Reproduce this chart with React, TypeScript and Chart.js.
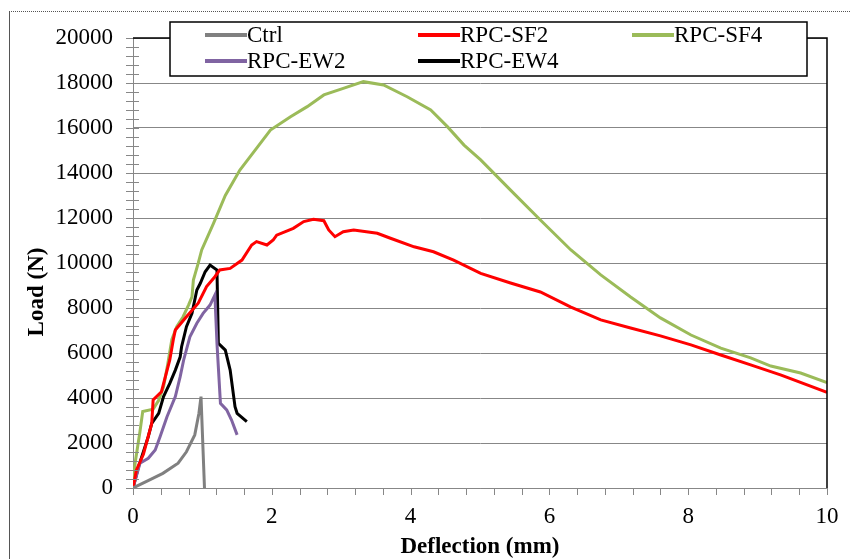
import React, { useEffect, useRef } from "react";
import { Chart, registerables } from "chart.js";

Chart.register(...registerables);

// ---- Data (deflection in mm, load in N) ----
const ctrlX = [0, 0.24, 0.43, 0.65, 0.77, 0.89, 0.95, 0.98, 1.03];
const ctrlY = [0, 360, 650, 1100, 1610, 2360, 3320, 4060, 0];

const sf2X = [0, 0.05, 0.15, 0.22, 0.27, 0.29, 0.41, 0.53, 0.58, 0.61, 0.77, 0.94, 1.06, 1.18, 1.25, 1.4, 1.57, 1.71, 1.78, 1.93, 2.02, 2.07, 2.31, 2.46, 2.6, 2.75, 2.82, 2.91, 3.03, 3.18, 3.52, 3.71, 4.05, 4.33, 4.62, 5.01, 5.44, 5.87, 6.31, 6.74, 7.17, 7.6, 8.04, 8.47, 8.9, 9.34, 10];
const sf2Y = [0, 800, 1500, 2300, 2870, 3910, 4280, 5690, 6580, 7020, 7610, 8210, 8950, 9390, 9690, 9760, 10130, 10800, 10950, 10800, 11020, 11240, 11540, 11840, 11940, 11880, 11470, 11170, 11390, 11470, 11320, 11100, 10720, 10500, 10130, 9540, 9110, 8710, 8040, 7470, 7110, 6760, 6360, 5910, 5470, 5020, 4250];

const sf4X = [0, 0.03, 0.1, 0.14, 0.29, 0.37, 0.44, 0.5, 0.56, 0.63, 0.72, 0.8, 0.85, 0.87, 0.94, 0.99, 1.16, 1.33, 1.54, 1.76, 1.98, 2.27, 2.51, 2.75, 3.03, 3.32, 3.61, 3.95, 4.29, 4.53, 4.77, 5.01, 5.44, 5.87, 6.31, 6.74, 7.17, 7.6, 8.04, 8.47, 8.9, 9.19, 9.62, 10];
const sf4Y = [0, 1100, 2500, 3400, 3500, 3900, 4500, 5500, 6600, 7170, 7600, 8130, 8500, 9240, 9990, 10580, 11760, 13000, 14130, 15020, 15910, 16500, 16950, 17470, 17760, 18060, 17910, 17390, 16800, 16060, 15240, 14580, 13240, 11910, 10580, 9470, 8490, 7560, 6800, 6220, 5780, 5420, 5110, 4680];

const ew2X = [0, 0.1, 0.22, 0.32, 0.39, 0.49, 0.61, 0.68, 0.73, 0.82, 0.92, 1.01, 1.11, 1.18, 1.21, 1.26, 1.35, 1.42, 1.5];
const ew2Y = [0, 1100, 1320, 1690, 2280, 3170, 4060, 4950, 5690, 6720, 7320, 7760, 8130, 8580, 6430, 3760, 3470, 3020, 2360];

const ew4X = [0, 0.08, 0.22, 0.27, 0.37, 0.44, 0.53, 0.61, 0.68, 0.7, 0.77, 0.85, 0.92, 0.97, 1.04, 1.11, 1.21, 1.23, 1.33, 1.4, 1.47, 1.5, 1.64];
const ew4Y = [0, 950, 2280, 2870, 3320, 4060, 4650, 5240, 5830, 6280, 7170, 7760, 8800, 9100, 9610, 9910, 9690, 6430, 6130, 5240, 3610, 3320, 2950];

const seriesLabels = ["Ctrl", "RPC-SF2", "RPC-SF4", "RPC-EW2", "RPC-EW4"];
const seriesColors = ["#808080", "#FF0000", "#9BBB59", "#8064A2", "#000000"];
const seriesXs = [ctrlX, sf2X, sf4X, ew2X, ew4X];
const seriesYs = [ctrlY, sf2Y, sf4Y, ew2Y, ew4Y];

const xMin = 0, xMax = 10, xStep = 2, xMinorStep = 0.4;
const yMin = 0, yMax = 20000, yStep = 2000, yMinorStep = 400;
const xTitle = "Deflection (mm)";
const yTitle = "Load (N)";

const FONT = "'Liberation Serif', 'Times New Roman', serif";

const decorPlugin = {
  id: "decor",
  afterDraw(chart: any) {
    const ctx = chart.ctx as CanvasRenderingContext2D;
    const { left, right, top, bottom } = chart.chartArea;
    const xs = chart.scales.x;
    const ys = chart.scales.y;
    ctx.save();

    // outer frame
    ctx.strokeStyle = "#555";
    ctx.lineWidth = 1;
    ctx.setLineDash([1, 1]);
    ctx.beginPath();
    ctx.moveTo(9, 11.5);
    ctx.lineTo(850, 11.5);
    ctx.stroke();
    ctx.setLineDash([]);
    ctx.beginPath();
    ctx.moveTo(9.5, 11);
    ctx.lineTo(9.5, 559);
    ctx.stroke();

    // minor ticks
    ctx.strokeStyle = "#878787";
    ctx.lineWidth = 1;
    ctx.beginPath();
    for (let v = yMin; v <= yMax + 1e-6; v += yMinorStep) {
      const y = Math.round(ys.getPixelForValue(v)) + 0.5;
      ctx.moveTo(left - 7, y);
      ctx.lineTo(left + 6, y);
    }
    const nx = Math.round((xMax - xMin) / xMinorStep);
    for (let i = 0; i <= nx; i++) {
      const x = Math.round(xs.getPixelForValue(xMin + i * xMinorStep)) + 0.5;
      ctx.moveTo(x, bottom);
      ctx.lineTo(x, bottom + 7);
    }
    ctx.stroke();

    // top/right border
    ctx.strokeStyle = "#000";
    ctx.lineWidth = 1.5;
    ctx.beginPath();
    ctx.moveTo(left, top);
    ctx.lineTo(right, top);
    ctx.lineTo(right, bottom);
    ctx.stroke();

    // legend
    const bx = 170, by = 22, bw = 637, bh = 54;
    ctx.fillStyle = "#fff";
    ctx.fillRect(bx, by, bw, bh);
    ctx.strokeStyle = "#000";
    ctx.lineWidth = 1.5;
    ctx.strokeRect(bx, by, bw, bh);
    const colX = [205, 418, 632];
    const rowY = [35, 61];
    ctx.font = `23px ${FONT}`;
    ctx.textBaseline = "middle";
    ctx.textAlign = "left";
    chart.data.datasets.forEach((ds: any, i: number) => {
      const cx = colX[i % 3];
      const cy = rowY[Math.floor(i / 3)];
      ctx.strokeStyle = ds.borderColor;
      ctx.lineWidth = 4;
      ctx.beginPath();
      ctx.moveTo(cx, cy);
      ctx.lineTo(cx + 42, cy);
      ctx.stroke();
      ctx.fillStyle = "#000";
      ctx.fillText(ds.label, cx + 42, cy + 1);
    });

    // axis titles
    ctx.font = `bold 23px ${FONT}`;
    ctx.fillStyle = "#000";
    ctx.textAlign = "center";
    ctx.textBaseline = "middle";
    ctx.fillText(xTitle, (left + right) / 2, 547);
    ctx.translate(37, 292);
    ctx.rotate(-Math.PI / 2);
    ctx.fillText(yTitle, 0, 0);

    ctx.restore();
  },
};

export default function App() {
  const ref = useRef<HTMLCanvasElement | null>(null);
  useEffect(() => {
    if (!ref.current) return;
    const datasets = seriesLabels.map((label, i) => ({
      label,
      data: seriesXs[i].map((x, j) => ({ x, y: seriesYs[i][j] })),
      borderColor: seriesColors[i],
      backgroundColor: seriesColors[i],
      borderWidth: 3,
      pointRadius: 0,
      tension: 0,
      fill: false,
    }));
    const chart = new Chart(ref.current, {
      type: "line",
      data: { datasets },
      options: {
        responsive: false,
        animation: false,
        devicePixelRatio: 1,
        layout: { padding: { top: 38, right: 23, left: 0, bottom: 0 } },
        plugins: { legend: { display: false }, tooltip: { enabled: false } },
        scales: {
          x: {
            type: "linear",
            min: xMin,
            max: xMax,
            afterFit: (s: any) => { s.height = 71; s.paddingRight = 0; s.paddingLeft = 0; },
            ticks: { stepSize: xStep, color: "#000", font: { family: FONT, size: 23 }, padding: 15, maxRotation: 0, callback: (v: any) => String(v) },
            grid: { display: false, drawTicks: false },
            border: { display: true, color: "#878787", width: 1 },
          },
          y: {
            type: "linear",
            min: yMin,
            max: yMax,
            afterFit: (s: any) => { s.width = 133; s.paddingTop = 0; s.paddingBottom = 0; },
            ticks: { stepSize: yStep, color: "#000", font: { family: FONT, size: 23 }, padding: 20, autoSkip: false, callback: (v: any) => String(v) },
            grid: { color: "#878787", lineWidth: 1, drawTicks: false },
            border: { display: true, color: "#878787", width: 1 },
          },
        },
      },
      plugins: [decorPlugin],
    } as any);
    return () => chart.destroy();
  }, []);
  return (
    <div style={{ position: "absolute", left: 0, top: 0, width: 850, height: 559, background: "#fff" }}>
      <canvas ref={ref} width={850} height={559} />
    </div>
  );
}
